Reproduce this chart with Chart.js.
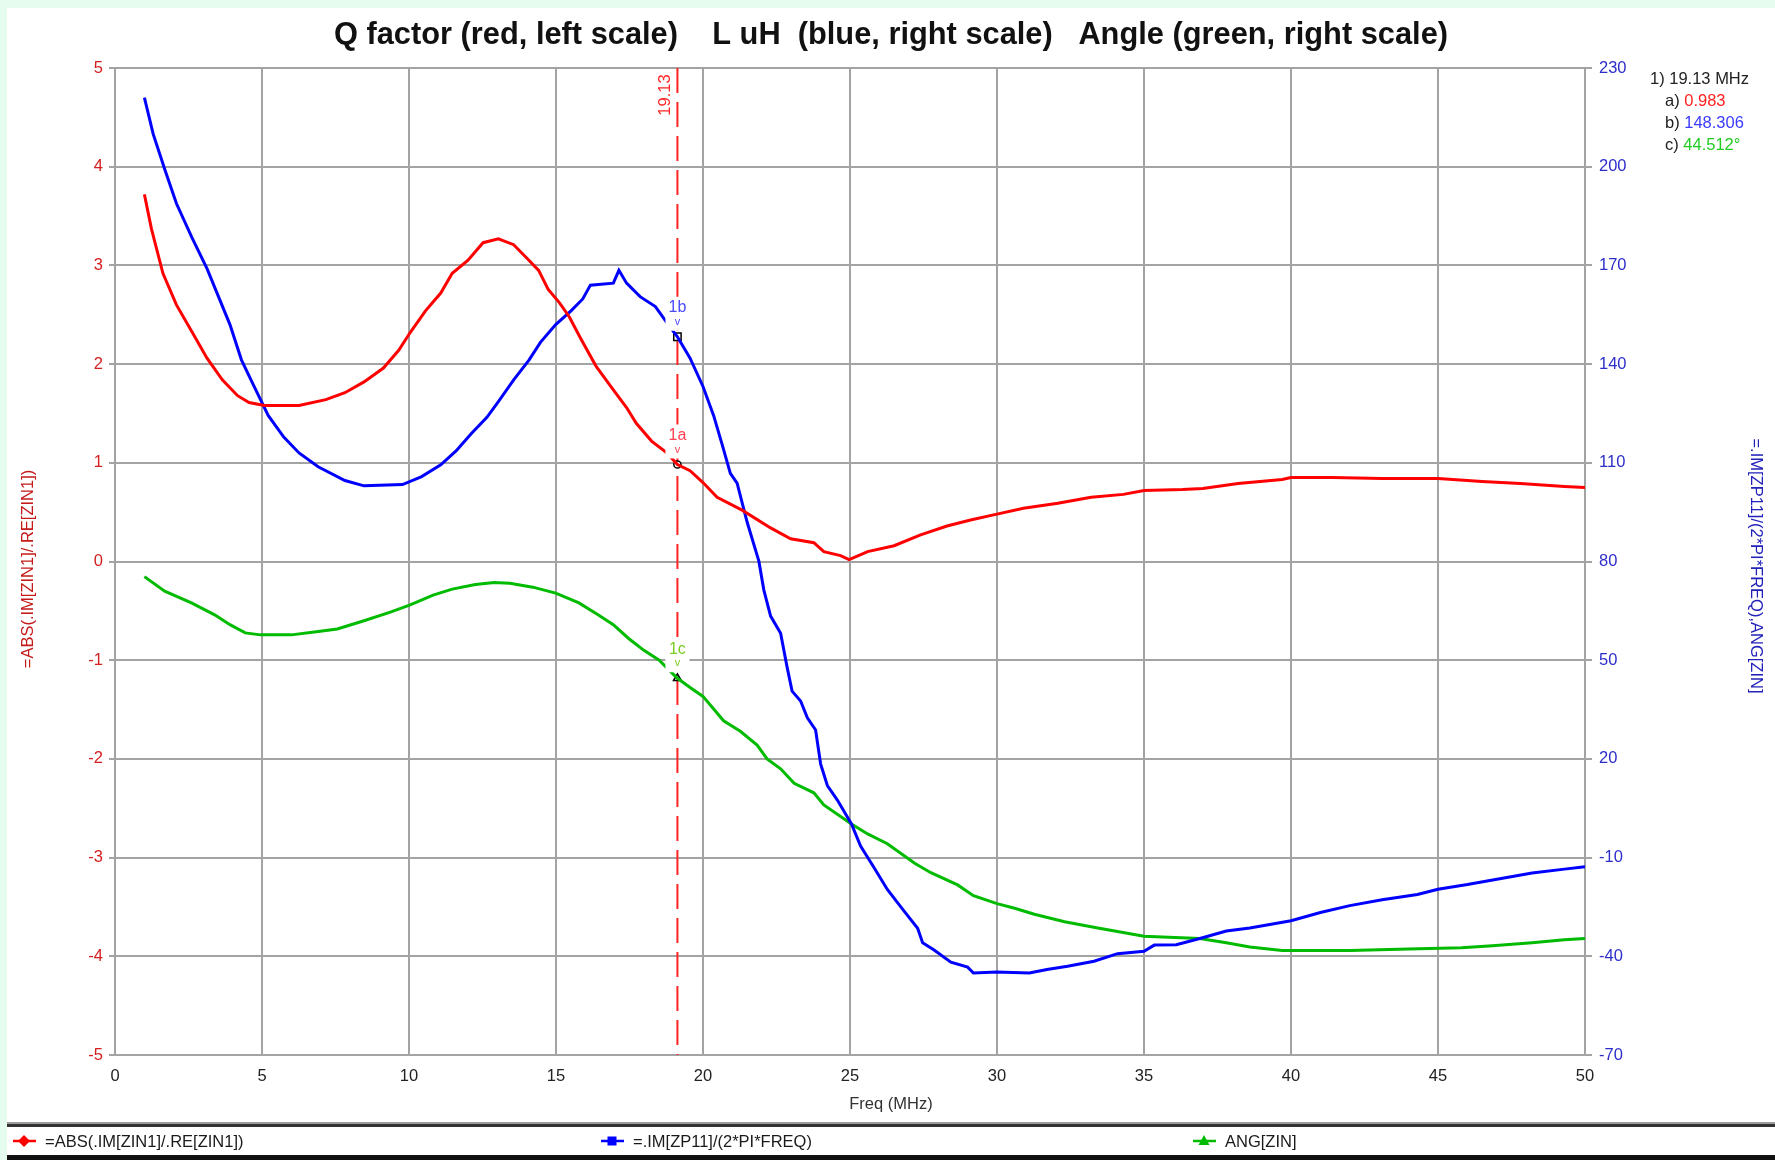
<!DOCTYPE html>
<html>
<head>
<meta charset="utf-8">
<title>Q factor / L uH / Angle</title>
<script src="https://cdn.jsdelivr.net/npm/chart.js@4.4.1/dist/chart.umd.min.js"></script>
<style>
  html, body { margin: 0; padding: 0; background: #ffffff; overflow: hidden; }
  canvas { display: block; }
</style>
</head>
<body>
<canvas id="chart" width="1775" height="1160"></canvas>
<script>
// ---- measured sweep, 1 to 50 MHz ----
// Q factor  =ABS(.IM[ZIN1]/.RE[ZIN1])  (left scale)
const qFreq = [1.0, 1.24, 1.63, 2.09, 2.67, 3.13, 3.65, 4.17, 4.56, 5.08, 6.26, 7.17, 7.82, 8.47, 9.13, 9.65,
  10.04, 10.56, 11.08, 11.47, 12.0, 12.52, 13.04, 13.56, 14.02, 14.41, 14.73, 15.12, 15.45, 15.84, 16.36, 16.95,
  17.4, 17.73, 18.25, 18.77, 19.13, 19.56, 20.0, 20.48, 21.33, 22.3, 22.98, 23.77, 24.11, 24.68, 24.97, 25.6,
  26.5, 27.4, 28.3, 29.1, 30.0, 30.9, 32.07, 33.2, 34.3, 35.0, 36.3, 37.0, 38.2, 39.7, 40.0, 41.4, 43.1, 45.0,
  46.5, 47.8, 49.3, 50.0];
const qVals = [3.72, 3.37, 2.92, 2.60, 2.30, 2.06, 1.84, 1.68, 1.61, 1.58, 1.58, 1.64, 1.71, 1.82, 1.96, 2.14,
  2.32, 2.54, 2.72, 2.92, 3.05, 3.23, 3.27, 3.21, 3.07, 2.95, 2.76, 2.62, 2.48, 2.26, 1.98, 1.74,
  1.56, 1.40, 1.22, 1.10, 0.983, 0.92, 0.80, 0.65, 0.52, 0.34, 0.23, 0.19, 0.10, 0.06, 0.02, 0.10,
  0.16, 0.27, 0.36, 0.42, 0.48, 0.54, 0.59, 0.65, 0.68, 0.72, 0.73, 0.74, 0.79, 0.83, 0.85, 0.85, 0.84, 0.84,
  0.81, 0.79, 0.76, 0.75];

// Inductance  =.IM[ZP11]/(2*PI*FREQ)  in uH (right scale)
const lFreq = [1.0, 1.3, 1.7, 2.09, 2.61, 3.13, 3.52, 3.91, 4.3, 4.69, 5.21, 5.74, 6.26, 6.91, 7.82, 8.47, 9.78,
  10.43, 11.08, 11.6, 12.13, 12.65, 13.04, 13.56, 14.08, 14.47, 14.99, 15.51, 15.91, 16.17, 16.95, 17.14, 17.4,
  17.86, 18.38, 18.77, 19.13, 19.56, 20.0, 20.36, 20.65, 20.93, 21.16, 21.5, 21.9, 22.07, 22.3, 22.64, 22.86,
  23.03, 23.32, 23.55, 23.83, 24.0, 24.23, 24.57, 25.05, 25.36, 25.82, 26.27, 26.78, 27.3, 27.47, 27.86, 28.43,
  29.0, 29.2, 30.0, 31.1, 31.7, 32.4, 33.3, 34.1, 35.0, 35.35, 36.1, 36.9, 37.8, 38.6, 40.0, 41.0, 42.0, 43.1,
  44.3, 45.0, 46.0, 47.1, 48.2, 49.3, 50.0];
const lVals = [221.0, 209.9, 199.0, 188.8, 178.6, 169.0, 160.5, 152.0, 141.3, 134.0, 124.4, 117.8, 113.0, 108.8,
  104.6, 103.0, 103.4, 105.8, 109.4, 113.6, 119.0, 123.8, 128.6, 135.2, 141.2, 146.6, 152.0, 156.2, 159.8, 164.0,
  164.6, 168.5, 164.6, 160.5, 157.5, 152.6, 148.306, 141.8, 133.2, 124.4, 115.6, 106.8, 103.8, 92.0, 80.1, 71.3,
  63.4, 58.2, 47.9, 40.6, 37.6, 32.5, 28.8, 18.5, 11.9, 7.5, 0.2, -6.5, -13.1, -19.7, -25.6, -31.5, -35.9, -38.1,
  -41.8, -43.3, -45.1, -44.8, -45.1, -44.0, -43.0, -41.5, -39.2, -38.5, -36.6, -36.5, -34.6, -32.3, -31.4, -29.2,
  -26.7, -24.6, -22.8, -21.2, -19.6, -18.2, -16.4, -14.7, -13.5, -12.8];

// Impedance angle  ANG[ZIN]  in degrees (right scale)
const angFreq = [1.0, 1.69, 2.6, 3.39, 3.91, 4.43, 4.95, 6.0, 6.78, 7.56, 8.47, 9.39, 10.04, 10.82, 11.47, 12.26,
  12.9, 13.43, 14.21, 14.99, 15.78, 16.43, 16.95, 17.47, 17.99, 18.51, 19.13, 19.56, 20.0, 20.7, 21.27, 21.84,
  22.18, 22.64, 23.1, 23.77, 24.11, 25.05, 25.6, 26.27, 27.2, 27.75, 28.66, 29.2, 30.0, 30.6, 31.27, 32.3, 33.43,
  35.0, 36.9, 37.8, 38.6, 39.7, 42.0, 44.0, 45.8, 46.85, 48.2, 49.3, 50.0];
const angVals = [75.4, 71.0, 67.4, 63.8, 60.8, 58.3, 57.7, 57.7, 58.6, 59.5, 62.0, 64.7, 66.8, 69.8, 71.6, 73.0,
  73.6, 73.4, 72.2, 70.4, 67.4, 63.8, 60.8, 56.6, 53.0, 50.0, 44.512, 41.7, 39.0, 31.6, 28.4, 24.2,
  20.0, 17.0, 12.6, 9.7, 6.0, 0.2, -2.8, -5.8, -11.7, -14.6, -18.3, -21.6, -24.0, -25.4, -27.2, -29.5, -31.4,
  -33.9, -34.6, -35.9, -37.2, -38.2, -38.2, -37.8, -37.4, -36.8, -35.9, -35.0, -34.6];

// cursor 1 readout
const markerFreq = 19.13;
const markerQ = 0.983;
const markerL = 148.306;
const markerAng = 44.512;

// tick labels
const freqTicks = [0, 5, 10, 15, 20, 25, 30, 35, 40, 45, 50];
const qTicks = [-5, -4, -3, -2, -1, 0, 1, 2, 3, 4, 5];
const rightTicks = [-70, -40, -10, 20, 50, 80, 110, 140, 170, 200, 230];

// texts
const titleText = 'Q factor (red, left scale)    L uH  (blue, right scale)   Angle (green, right scale)';
const seriesNames = ['=ABS(.IM[ZIN1]/.RE[ZIN1])', '=.IM[ZP11]/(2*PI*FREQ)', 'ANG[ZIN]'];
const leftTitle = '=ABS(.IM[ZIN1]/.RE[ZIN1])';
const rightTitle = '=.IM[ZP11]/(2*PI*FREQ),ANG[ZIN]';
const xTitle = 'Freq (MHz)';

// ---- styling ----
const FONT = '"Liberation Sans", Arial, Helvetica, sans-serif';
const GRID = '#a3a3a3';
const RED = '#ff0000', BLUE = '#0000ff', GREEN = '#00bb00';
const W = 1775, H = 1160;

const toXY = (xs, ys) => xs.map((x, i) => ({ x: x, y: ys[i] }));
const fixTicks = arr => scale => { scale.ticks = arr.map(v => ({ value: v })); };

function put(ctx, s, x, y, font, color, align, baseline) {
  ctx.font = font;
  ctx.fillStyle = color;
  ctx.textAlign = align || 'left';
  ctx.textBaseline = baseline || 'middle';
  ctx.fillText(s, x, y);
}

const decor = {
  id: 'decor',
  beforeDraw(chart) {
    const c = chart.ctx;
    c.save();
    c.fillStyle = '#e6fcef';
    c.fillRect(0, 0, W, H);
    c.fillStyle = '#ffffff';
    c.fillRect(7, 8, W - 7, H - 8);
    // bands around the legend strip
    c.fillStyle = '#9c9c9c';
    c.fillRect(7, 1122, W - 7, 2);
    c.fillStyle = '#333333';
    c.fillRect(7, 1124, W - 7, 3);
    c.fillStyle = '#111111';
    c.fillRect(7, 1155, W - 7, 5);
    c.restore();
  },
  beforeDatasetsDraw(chart) {
    const c = chart.ctx, a = chart.chartArea;
    const x = chart.scales.x.getPixelForValue(markerFreq);
    c.save();
    c.strokeStyle = '#ff2424';
    c.lineWidth = 2;
    c.setLineDash([25, 9]);
    c.beginPath();
    c.moveTo(x, a.top);
    c.lineTo(x, a.bottom);
    c.stroke();
    c.restore();
  },
  afterDatasetsDraw(chart) {
    const c = chart.ctx;
    const x = chart.scales.x.getPixelForValue(markerFreq);
    const tags = [
      { t: '1a', y: chart.scales.yQ.getPixelForValue(markerQ), col: '#ff4050' },
      { t: '1b', y: chart.scales.yR.getPixelForValue(markerL), col: '#4a4aff' },
      { t: '1c', y: chart.scales.yR.getPixelForValue(markerAng), col: '#7acc22' }
    ];
    c.save();
    tags.forEach(g => {
      c.fillStyle = '#ffffff';
      c.fillRect(x - 12, g.y - 40, 24, 34);
      put(c, g.t, x, g.y - 29, '16px ' + FONT, g.col, 'center', 'middle');
      put(c, 'v', x, g.y - 15, '11px ' + FONT, g.col, 'center', 'middle');
    });
    // cursor frequency, written along the cursor line
    c.translate(x - 12, 95);
    c.rotate(-Math.PI / 2);
    put(c, String(markerFreq), 0, 0, '16.5px ' + FONT, '#ff2424', 'center', 'middle');
    c.restore();
  },
  afterDraw(chart) {
    const c = chart.ctx;
    c.save();
    // title
    put(c, titleText, 891, 36, 'bold 30.8px ' + FONT, '#111111', 'center', 'middle');
    // x axis title
    put(c, xTitle, 891, 1104, '16.5px ' + FONT, '#333333', 'center', 'middle');
    // left axis title
    c.save();
    c.translate(28, 569);
    c.rotate(-Math.PI / 2);
    put(c, leftTitle, 0, 0, '16.5px ' + FONT, '#c41a1a', 'center', 'middle');
    c.restore();
    // right axis title
    c.save();
    c.translate(1756, 566);
    c.rotate(Math.PI / 2);
    put(c, rightTitle, 0, 0, '16.5px ' + FONT, '#2222bb', 'center', 'middle');
    c.restore();

    // cursor readout
    const f = '16.5px ' + FONT;
    put(c, '1) ' + markerFreq + ' MHz', 1650, 79, f, '#222222');
    const rows = [
      ['a) ', markerQ.toFixed(3), '#ff2020'],
      ['b) ', markerL.toFixed(3), '#3a3aff'],
      ['c) ', markerAng.toFixed(3) + '\u00b0', '#22cc22']
    ];
    rows.forEach((r, i) => {
      const y = 101 + i * 22;
      put(c, r[0], 1665, y, f, '#222222');
      const w = c.measureText(r[0]).width;
      put(c, r[1], 1665 + w, y, f, r[2]);
    });

    // legend strip
    const ly = 1141;
    const items = [
      { cx: 24, col: RED, shape: 'diamond' },
      { cx: 612, col: BLUE, shape: 'square' },
      { cx: 1204, col: GREEN, shape: 'triangle' }
    ];
    items.forEach((it, i) => {
      c.strokeStyle = it.col;
      c.fillStyle = it.col;
      c.lineWidth = 2.5;
      c.beginPath();
      c.moveTo(it.cx - 11, ly);
      c.lineTo(it.cx + 12, ly);
      c.stroke();
      c.beginPath();
      if (it.shape === 'diamond') {
        c.moveTo(it.cx, ly - 6); c.lineTo(it.cx + 6, ly); c.lineTo(it.cx, ly + 6); c.lineTo(it.cx - 6, ly);
      } else if (it.shape === 'square') {
        c.rect(it.cx - 4.5, ly - 4.5, 9, 9);
      } else {
        c.moveTo(it.cx, ly - 6); c.lineTo(it.cx + 5.5, ly + 4); c.lineTo(it.cx - 5.5, ly + 4);
      }
      c.closePath();
      c.fill();
      put(c, seriesNames[i], it.cx + 21, ly + 1, '16.5px ' + FONT, '#1a1a1a');
    });
    c.restore();
  }
};

const lineStyle = col => ({
  borderColor: col, backgroundColor: col, borderWidth: 3,
  pointRadius: 0, pointHoverRadius: 0, tension: 0, fill: false
});
const cursorPoint = (shape, r) => ({
  showLine: false, pointStyle: shape, pointRadius: r, pointHoverRadius: r,
  pointBorderColor: '#000000', pointBackgroundColor: '#ffffff', pointBorderWidth: 1.5
});

new Chart(document.getElementById('chart'), {
  type: 'line',
  data: {
    datasets: [
      Object.assign({ label: seriesNames[0], data: toXY(qFreq, qVals), yAxisID: 'yQ' }, lineStyle(RED)),
      Object.assign({ label: seriesNames[1], data: toXY(lFreq, lVals), yAxisID: 'yR' }, lineStyle(BLUE)),
      Object.assign({ label: seriesNames[2], data: toXY(angFreq, angVals), yAxisID: 'yR' }, lineStyle(GREEN)),
      Object.assign({ label: '1a', data: [{ x: markerFreq, y: markerQ }], yAxisID: 'yQ' }, cursorPoint('circle', 3.6)),
      Object.assign({ label: '1b', data: [{ x: markerFreq, y: markerL }], yAxisID: 'yR' }, cursorPoint('rect', 5.2)),
      Object.assign({ label: '1c', data: [{ x: markerFreq, y: markerAng }], yAxisID: 'yR' }, cursorPoint('triangle', 4.5))
    ]
  },
  options: {
    responsive: false,
    animation: false,
    devicePixelRatio: 1,
    events: [],
    layout: { padding: { top: 68, left: 0, right: 0, bottom: 0 } },
    plugins: { legend: { display: false }, title: { display: false }, tooltip: { enabled: false } },
    scales: {
      x: {
        type: 'linear', min: 0, max: 50,
        afterBuildTicks: fixTicks(freqTicks),
        afterFit: s => { s.height = 105; },
        grid: { color: GRID, lineWidth: 2, drawTicks: false },
        border: { color: GRID, width: 2 },
        ticks: { padding: 12, color: '#222222', font: { family: FONT, size: 16.5 }, maxRotation: 0 }
      },
      yQ: {
        type: 'linear', position: 'left', min: -5, max: 5,
        afterBuildTicks: fixTicks(qTicks),
        afterFit: s => { s.width = 115; },
        grid: { color: GRID, lineWidth: 2, drawTicks: true, tickLength: 6 },
        border: { color: GRID, width: 2 },
        ticks: { padding: 6, color: '#d42020', font: { family: FONT, size: 16.5 } }
      },
      yR: {
        type: 'linear', position: 'right', min: -70, max: 230,
        afterBuildTicks: fixTicks(rightTicks),
        afterFit: s => { s.width = 190; },
        grid: { color: GRID, lineWidth: 2, drawOnChartArea: false, drawTicks: true, tickLength: 7 },
        border: { color: GRID, width: 2 },
        ticks: { padding: 7, color: '#2d2dcc', font: { family: FONT, size: 16.5 } }
      }
    }
  },
  plugins: [decor]
});
</script>
</body>
</html>
